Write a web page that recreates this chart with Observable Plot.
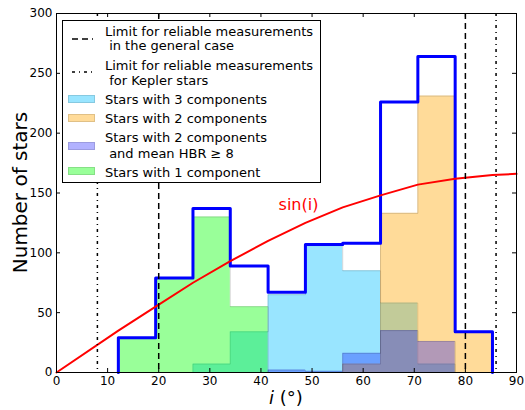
<!DOCTYPE html>
<html><head><meta charset="utf-8">
<script src="https://cdn.jsdelivr.net/npm/d3@7"></script>
<script src="https://cdn.jsdelivr.net/npm/@observablehq/plot@0.6"></script>
<style>
body{margin:0;background:#fff;font-family:"DejaVu Sans",sans-serif;}
#wrap{position:relative;width:525px;height:410px;}
#legend{position:absolute;left:62px;top:20px;width:259px;height:163px;border:1px solid #000;background:#fff;box-sizing:border-box;}
.lt{position:absolute;font-size:13px;line-height:15px;white-space:pre;color:#000;font-family:"DejaVu Sans",sans-serif;}
.patch{position:absolute;width:27px;height:8px;box-sizing:border-box;}
.samp{position:absolute;}
</style></head><body><div id="wrap"></div>
<script>
// ---- data ----
const binEdges = [12.1, 19.4, 26.7, 34.0, 41.4, 48.7, 56.0, 63.4, 70.7, 78.0, 85.3];
const threeComp  = [0, 0, 7, 34, 65, 106, 85, 58, 7, 0];
const twoComp    = [0, 0, 0, 0, 0, 0, 7, 133, 231, 34];
const twoCompHBR = [0, 0, 0, 0, 2, 1, 16, 35, 26, 0];
const oneComp    = [29, 79, 130, 55, 0, 0, 0, 0, 0, 0];
const sinX = [0, 12.1, 19.4, 26.7, 34.0, 41.4, 48.7, 56.0, 63.4, 70.7, 78.0, 85.3, 90];
const sinY = [0, 35, 55, 75, 93, 110, 125, 138, 148, 157, 162, 165, 166];
const limitGeneral = [20, 80];
const limitKepler = [8, 86];
const xTicks = [0, 10, 20, 30, 40, 50, 60, 70, 80, 90];
const yTicks = [0, 50, 100, 150, 200, 250, 300];
const legendLabels = {
  general: ["Limit for reliable measurements", " in the general case"],
  kepler: ["Limit for reliable measurements", " for Kepler stars"],
  three: "Stars with 3 components",
  two: "Stars with 2 components",
  hbr: ["Stars with 2 components", " and mean HBR \u2265 8"],
  one: "Stars with 1 component"
};

const W = 525, H = 410, mL = 56, mR = 9, mT = 13, mB = 38;
const plotW = W - mL - mR, plotH = H - mT - mB;

const series = [
  {vals: threeComp, color: "#00bfff", op: 0.4},
  {vals: twoComp, color: "#ffa500", op: 0.4},
  {vals: twoCompHBR, color: "#0000ff", op: 0.3},
  {vals: oneComp, color: "#00ff00", op: 0.4}
];
const steps = vals => [...vals.map((v, k) => ({x: binEdges[k], y: v})), {x: binEdges[binEdges.length - 1], y: vals[vals.length - 1]}];
const totals = threeComp.map((v, k) => v + twoComp[k] + twoCompHBR[k] + oneComp[k]);
const outline = [{x: binEdges[0], y: 0}, ...steps(totals), {x: binEdges[binEdges.length - 1], y: 0}];
const sinData = sinX.map((x, k) => ({x, y: sinY[k]}));

const marks = [];
for (const s of series) {
  marks.push(Plot.areaY(steps(s.vals), {x: "x", y: "y", curve: "step-after", fill: s.color, fillOpacity: s.op}));
  marks.push(Plot.lineY(steps(s.vals), {x: "x", y: "y", curve: "step-after", stroke: "#000", strokeOpacity: 0.15, strokeWidth: 1}));
}
marks.push(
  Plot.line(outline, {x: "x", y: "y", curve: "step-after", stroke: "#0000ff", strokeWidth: 3}),
  Plot.line(sinData, {x: "x", y: "y", stroke: "#ff0000", strokeWidth: 2}),
  Plot.text([sinData[6]], {x: "x", y: "y", text: () => "sin(i)", textAnchor: "end", dx: 13, dy: -18, fill: "#ff0000", fontSize: 16}),
  Plot.ruleX(limitGeneral, {stroke: "#000", strokeWidth: 1.5, strokeDasharray: "6,4"}),
  Plot.ruleX(limitKepler, {stroke: "#000", strokeWidth: 1.5, strokeDasharray: "3,4,1,4"}),
  Plot.tickX(xTicks, {x: d => d, stroke: "#000", insetTop: plotH - 4}),
  Plot.tickX(xTicks, {x: d => d, stroke: "#000", insetBottom: plotH - 4}),
  Plot.tickY(yTicks, {y: d => d, stroke: "#000", insetRight: plotW - 4}),
  Plot.tickY(yTicks, {y: d => d, stroke: "#000", insetLeft: plotW - 4}),
  Plot.axisX({ticks: xTicks, tickSize: 0, tickPadding: 4, label: null}),
  Plot.axisY({ticks: yTicks, tickSize: 0, tickPadding: 4, label: null}),
  Plot.frame({stroke: "#000", strokeWidth: 1})
);

const chart = Plot.plot({
  width: W, height: H,
  marginLeft: mL, marginRight: mR, marginTop: mT, marginBottom: mB,
  x: {domain: [0, 90]},
  y: {domain: [0, 300]},
  style: {fontFamily: "DejaVu Sans, sans-serif", fontSize: "12px", color: "#000", background: "#fff"},
  marks
});
const wrap = document.getElementById("wrap");
wrap.appendChild(chart);

const svg = d3.select(chart);
svg.append("text")
  .attr("transform", `translate(20,${mT + plotH / 2}) rotate(-90)`)
  .attr("text-anchor", "middle").attr("dy", "0.35em")
  .attr("font-size", 20).attr("font-family", "DejaVu Sans, sans-serif").attr("fill", "#000")
  .text("Number of stars");
const xl = svg.append("text")
  .attr("x", mL + plotW / 2).attr("y", 404)
  .attr("text-anchor", "middle")
  .attr("font-size", 18).attr("font-family", "DejaVu Sans, sans-serif").attr("fill", "#000");
xl.append("tspan").attr("font-style", "italic").text("i");
xl.append("tspan").text(" (\u00b0)");

// ---- legend overlay ----
const leg = document.createElement("div");
leg.id = "legend";
wrap.appendChild(leg);
function addText(t, x, cy) {
  const d = document.createElement("div");
  d.className = "lt"; d.style.left = x + "px"; d.style.top = (cy - 7.5) + "px";
  d.textContent = t; wrap.appendChild(d);
}
function addPatch(color, op, top) {
  const d = document.createElement("div");
  d.className = "patch"; d.style.left = "68px"; d.style.top = top + "px";
  d.style.background = d3.color(color).copy({opacity: op}).formatRgb();
  d.style.border = "1px solid rgba(0,0,0,0.12)";
  wrap.appendChild(d);
}
function addSample(dash, cy) {
  const ns = "http://www.w3.org/2000/svg";
  const s = document.createElementNS(ns, "svg");
  s.setAttribute("class", "samp"); s.setAttribute("width", 24); s.setAttribute("height", 6);
  s.style.left = "71px"; s.style.top = (cy - 3) + "px";
  const l = document.createElementNS(ns, "line");
  l.setAttribute("x1", 1); l.setAttribute("x2", 22); l.setAttribute("y1", 3); l.setAttribute("y2", 3);
  l.setAttribute("stroke", "#000"); l.setAttribute("stroke-width", 1.5); l.setAttribute("stroke-dasharray", dash);
  s.appendChild(l); wrap.appendChild(s);
}
addSample("6,4", 39);
addText(legendLabels.general[0], 105, 31);
addText(legendLabels.general[1], 105, 45);
addSample("3,4,1,4", 72);
addText(legendLabels.kepler[0], 105, 65);
addText(legendLabels.kepler[1], 105, 80);
addPatch(series[0].color, series[0].op, 95);
addText(legendLabels.three, 105, 99);
addPatch(series[1].color, series[1].op, 114);
addText(legendLabels.two, 105, 118);
addPatch(series[2].color, series[2].op, 142);
addText(legendLabels.hbr[0], 105, 137);
addText(legendLabels.hbr[1], 105, 153);
addPatch(series[3].color, series[3].op, 167);
addText(legendLabels.one, 105, 172);
</script></body></html>
